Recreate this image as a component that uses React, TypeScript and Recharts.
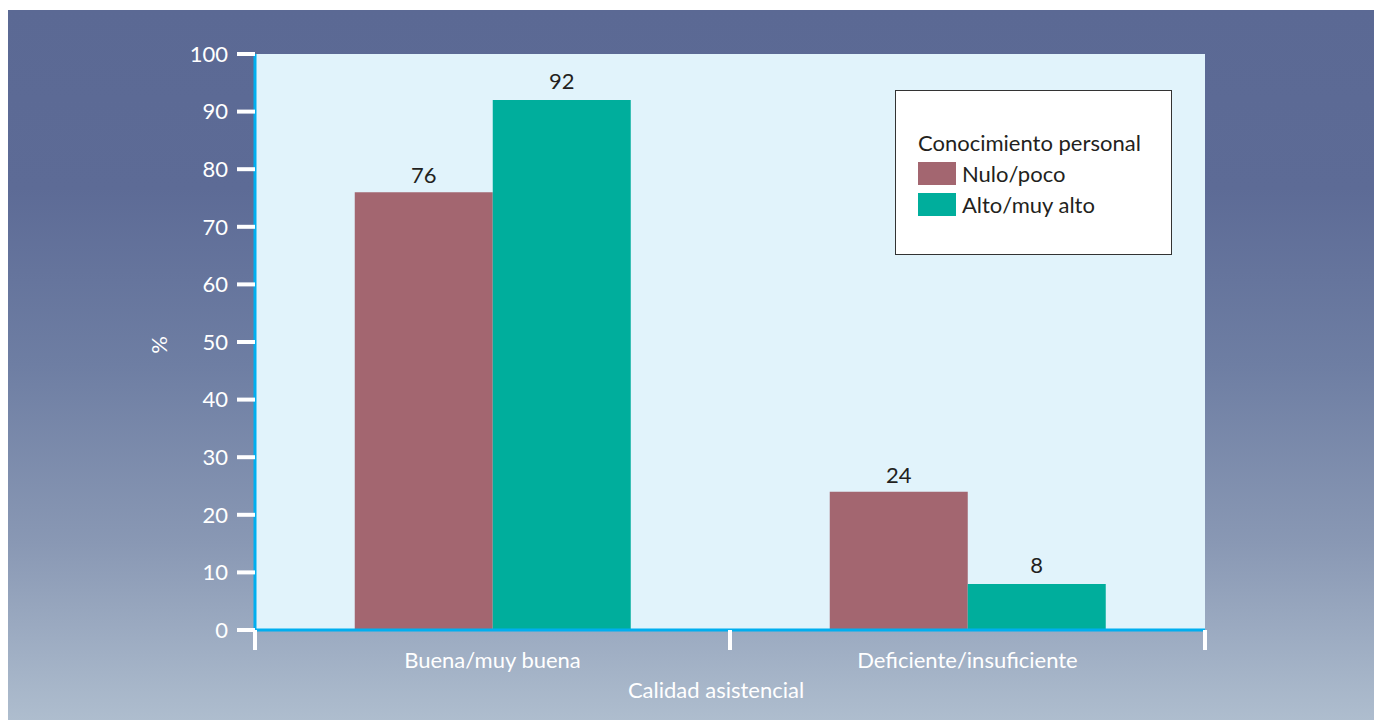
import { BarChart, Bar, XAxis, YAxis, CartesianGrid, Legend, LabelList } from "recharts";

const categories = ["Buena/muy buena", "Deficiente/insuficiente"];
const nuloPoco = [76, 24];
const altoMuyAlto = [92, 8];
const yTicks = [0, 10, 20, 30, 40, 50, 60, 70, 80, 90, 100];

const seriesOrder = ["Nulo/poco", "Alto/muy alto"];
const colors = { nulo: "#a36670", alto: "#00ae9c" };

const data = categories.map((c, i) => ({
  name: c,
  nulo: nuloPoco[i],
  alto: altoMuyAlto[i],
}));

const font = "Lato, 'Open Sans', sans-serif";

function XTick(props: any) {
  const { x, y, payload, index, visibleTicksCount } = props;
  const half = payload?.offset ?? 0;
  const last = index === (visibleTicksCount ?? categories.length) - 1;
  return (
    <g>
      <line x1={x - half} x2={x - half} y1={y} y2={y + 20} stroke="#fff" strokeWidth={4} />
      {last && (
        <line x1={x + half} x2={x + half} y1={y} y2={y + 20} stroke="#fff" strokeWidth={4} />
      )}
      <text x={x} y={y + 38} textAnchor="middle" fill="#fff" fontSize={22} fontFamily={font}>
        {payload.value}
      </text>
    </g>
  );
}

function LegendBox({ payload }: any) {
  const items = [...(payload || [])].sort(
    (a: any, b: any) => seriesOrder.indexOf(a.value) - seriesOrder.indexOf(b.value)
  );
  return (
    <div
      style={{
        width: 277,
        height: 165,
        boxSizing: "border-box",
        background: "#fff",
        border: "1.5px solid #333",
        padding: "36px 0 0 22px",
        fontFamily: font,
        fontSize: 22,
        color: "#231f20",
        lineHeight: "31px",
      }}
    >
      <div>Conocimiento personal</div>
      {items.map((p: any) => (
        <div key={p.value} style={{ display: "flex", alignItems: "center" }}>
          <span
            style={{ display: "inline-block", width: 38, height: 23, background: p.color, marginRight: 6 }}
          />
          {p.value}
        </div>
      ))}
    </div>
  );
}

export default function App() {
  return (
    <>
      <style>{"html, body { overflow: hidden; }"}</style>
      <div
        style={{
          position: "fixed",
          left: 8,
          top: 10,
          width: 1400,
          height: 720,
          background:
            "linear-gradient(to bottom, #5b6994 0px, #5d6b96 178px, #6e7ea3 355px, #8998b4 533px, #aebdce 710px)",
        }}
      >
        <BarChart
          width={1366}
          height={710}
          data={data}
          margin={{ top: 44, right: 169, bottom: 20, left: 147 }}
          barCategoryGap="21%"
          barGap={0}
        >
          <CartesianGrid horizontal={false} vertical={false} fill="#e1f3fb" />
          <XAxis
            dataKey="name"
            height={70}
            tickSize={0}
            tickMargin={0}
            axisLine={{ stroke: "#00aeef", strokeWidth: 3 }}
            tickLine={false}
            tick={<XTick />}
            interval={0}
            label={({ viewBox }: any) => (
              <text
                x={viewBox.x + viewBox.width / 2 - 14}
                y={viewBox.y + 68}
                textAnchor="middle"
                fill="#fff"
                fontSize={22}
                fontFamily={font}
              >
                Calidad asistencial
              </text>
            )}
          />
          <YAxis
            width={100}
            domain={[0, 100]}
            ticks={yTicks}
            interval={0}
            tickSize={18}
            tickMargin={9}
            axisLine={{ stroke: "#00aeef", strokeWidth: 3 }}
            tickLine={{ stroke: "#fff", strokeWidth: 4 }}
            tick={{ fill: "#fff", fontSize: 22, fontFamily: font }}
            label={({ viewBox }: any) => {
              const cx = viewBox.x + 3;
              const cy = viewBox.y + viewBox.height / 2 + 3;
              return (
                <text
                  x={cx}
                  y={cy}
                  transform={`rotate(-90 ${cx} ${cy})`}
                  textAnchor="middle"
                  dominantBaseline="central"
                  fill="#fff"
                  fontSize={22}
                  fontFamily={font}
                >
                  %
                </text>
              );
            }}
          />
          <Legend
            layout="vertical"
            align="center"
            verticalAlign="middle"
            wrapperStyle={{ position: "absolute", left: 887, top: 80, width: 277, height: 165 }}
            content={<LegendBox />}
          />
          <Bar dataKey="nulo" name={seriesOrder[0]} fill={colors.nulo} isAnimationActive={false}>
            <LabelList dataKey="nulo" position="top" offset={9} fill="#231f20" fontSize={22} fontFamily={font} />
          </Bar>
          <Bar dataKey="alto" name={seriesOrder[1]} fill={colors.alto} isAnimationActive={false}>
            <LabelList dataKey="alto" position="top" offset={11} fill="#231f20" fontSize={22} fontFamily={font} />
          </Bar>
        </BarChart>
      </div>
    </>
  );
}
